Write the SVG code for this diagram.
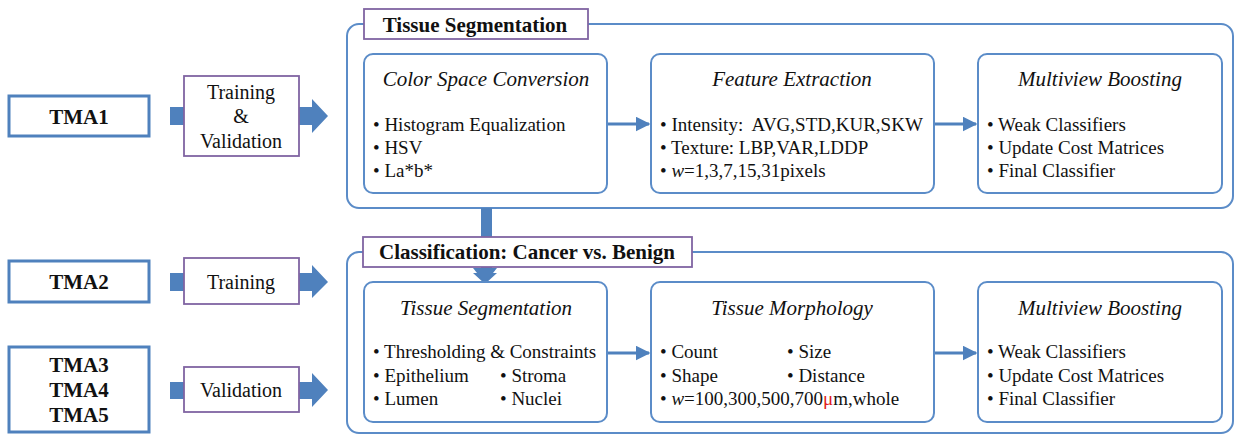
<svg xmlns="http://www.w3.org/2000/svg" width="1236" height="435" viewBox="0 0 1236 435" font-family="'Liberation Serif', 'DejaVu Serif', serif">
<style>
text{font-family:'Liberation Serif','DejaVu Serif',serif;fill:#111}
.tma{fill:#fff;stroke:#4f81bd;stroke-width:3}
.step{fill:#fff;stroke:#8064a2;stroke-width:1.8}
.cont{fill:#fff;stroke:#5b8cc8;stroke-width:2}
.inner{fill:#fff;stroke:#5b8cc8;stroke-width:2}
.lbl{font-size:21px;font-weight:bold;text-anchor:middle}
.st{font-size:20px;text-anchor:middle}
.hd{font-size:21px;font-style:italic;text-anchor:middle}
.b{font-size:19px}
.big{fill:#4f81bd}
.ln{stroke:#4f81bd;stroke-width:3;fill:none}
.red{fill:#e02020}
</style>
<defs>
<marker id="ah" viewBox="0 0 10 10" refX="9" refY="5" markerWidth="5" markerHeight="5" orient="auto" markerUnits="strokeWidth">
<path d="M0,0 L10,5 L0,10 Z" fill="#4f81bd"/>
</marker>
</defs>

<g id="connectors">
<rect class="big" x="170" y="107" width="16" height="18"/>
<polygon class="big" points="297,107 312,107 312,99 328,116 312,133 312,125 297,125"/>
<rect class="big" x="170" y="273" width="16" height="18"/>
<polygon class="big" points="297,273 312,273 312,265 328,282 312,298 312,291 297,291"/>
<rect class="big" x="170" y="382" width="16" height="17"/>
<polygon class="big" points="297,382 312,382 312,373 328,390 312,407 312,399 297,399"/>
</g>

<g id="tma1"><rect class="tma" x="9" y="96" width="140" height="40"/><text class="lbl" x="79" y="124">TMA1</text></g>
<g id="tma2"><rect class="tma" x="9" y="261" width="140" height="41"/><text class="lbl" x="79" y="289">TMA2</text></g>
<g id="tma345"><rect class="tma" x="9" y="347" width="140" height="85"/>
<text class="lbl" x="79" y="372">TMA3</text><text class="lbl" x="79" y="397">TMA4</text><text class="lbl" x="79" y="422">TMA5</text></g>

<g id="trainval"><rect class="step" x="184" y="76" width="115" height="80"/>
<text class="st" x="241" y="99">Training</text><text class="st" x="241" y="123">&amp;</text><text class="st" x="241" y="148">Validation</text></g>
<g id="training"><rect class="step" x="184" y="258" width="115" height="46"/><text class="st" x="241" y="289">Training</text></g>
<g id="validation"><rect class="step" x="184" y="367" width="115" height="45"/><text class="st" x="241" y="397">Validation</text></g>

<g id="seg-container">
<rect class="cont" x="347" y="24" width="886" height="184" rx="12"/>
</g>
<g id="bot-container">
<rect class="cont" x="347" y="252" width="886" height="181" rx="12"/>
</g>

<g id="connectors2">
<polygon class="big" points="481,208 492,208 492,273 497,273 485,284 473,273 481,273"/>
<line class="ln" x1="607" y1="124" x2="649" y2="124" marker-end="url(#ah)"/>
<line class="ln" x1="934" y1="124" x2="976" y2="124" marker-end="url(#ah)"/>
<line class="ln" x1="607" y1="353" x2="649" y2="353" marker-end="url(#ah)"/>
<line class="ln" x1="934" y1="353" x2="976" y2="353" marker-end="url(#ah)"/>
</g>

<g id="seg-title"><rect class="step" x="364" y="9" width="224" height="30"/><text class="lbl" x="475" y="32">Tissue Segmentation</text></g>
<g id="cls-title"><rect class="step" x="363" y="237" width="329" height="30"/><text class="lbl" x="527" y="259">Classification: Cancer vs. Benign</text></g>
<polygon class="big" points="473,268 497,268 485,283"/>

<g id="csc"><rect class="inner" x="364" y="54" width="243" height="139" rx="9"/>
<text class="hd" x="486" y="86">Color Space Conversion</text>
<text class="b" x="373" y="131">• Histogram Equalization</text>
<text class="b" x="373" y="154">• HSV</text>
<text class="b" x="373" y="177">• La*b*</text></g>

<g id="fe"><rect class="inner" x="651" y="54" width="283" height="139" rx="9"/>
<text class="hd" x="792" y="86">Feature Extraction</text>
<text class="b" x="660" y="131">• Intensity:&#160; AVG,STD,KUR,SKW</text>
<text class="b" x="660" y="154">• Texture: LBP,VAR,LDDP</text>
<text class="b" x="660" y="177">• <tspan font-style="italic">w</tspan>=1,3,7,15,31pixels</text></g>

<g id="mvb1"><rect class="inner" x="978" y="54" width="244" height="139" rx="9"/>
<text class="hd" x="1100" y="86">Multiview Boosting</text>
<text class="b" x="987" y="131">• Weak Classifiers</text>
<text class="b" x="987" y="154">• Update Cost Matrices</text>
<text class="b" x="987" y="177">• Final Classifier</text></g>

<g id="ts"><rect class="inner" x="364" y="282" width="243" height="140" rx="9"/>
<text class="hd" x="486" y="315">Tissue Segmentation</text>
<text class="b" x="373" y="358">• Thresholding &amp; Constraints</text>
<text class="b" x="373" y="382">• Epithelium</text>
<text class="b" x="500" y="382">• Stroma</text>
<text class="b" x="373" y="405">• Lumen</text>
<text class="b" x="500" y="405">• Nuclei</text></g>

<g id="tm"><rect class="inner" x="651" y="282" width="283" height="140" rx="9"/>
<text class="hd" x="792" y="315">Tissue Morphology</text>
<text class="b" x="660" y="358">• Count</text>
<text class="b" x="787" y="358">• Size</text>
<text class="b" x="660" y="382">• Shape</text>
<text class="b" x="787" y="382">• Distance</text>
<text class="b" x="660" y="405">• <tspan font-style="italic">w</tspan>=100,300,500,700<tspan class="red">μ</tspan>m,whole</text></g>

<g id="mvb2"><rect class="inner" x="978" y="282" width="244" height="140" rx="9"/>
<text class="hd" x="1100" y="315">Multiview Boosting</text>
<text class="b" x="987" y="358">• Weak Classifiers</text>
<text class="b" x="987" y="382">• Update Cost Matrices</text>
<text class="b" x="987" y="405">• Final Classifier</text></g>
</svg>
